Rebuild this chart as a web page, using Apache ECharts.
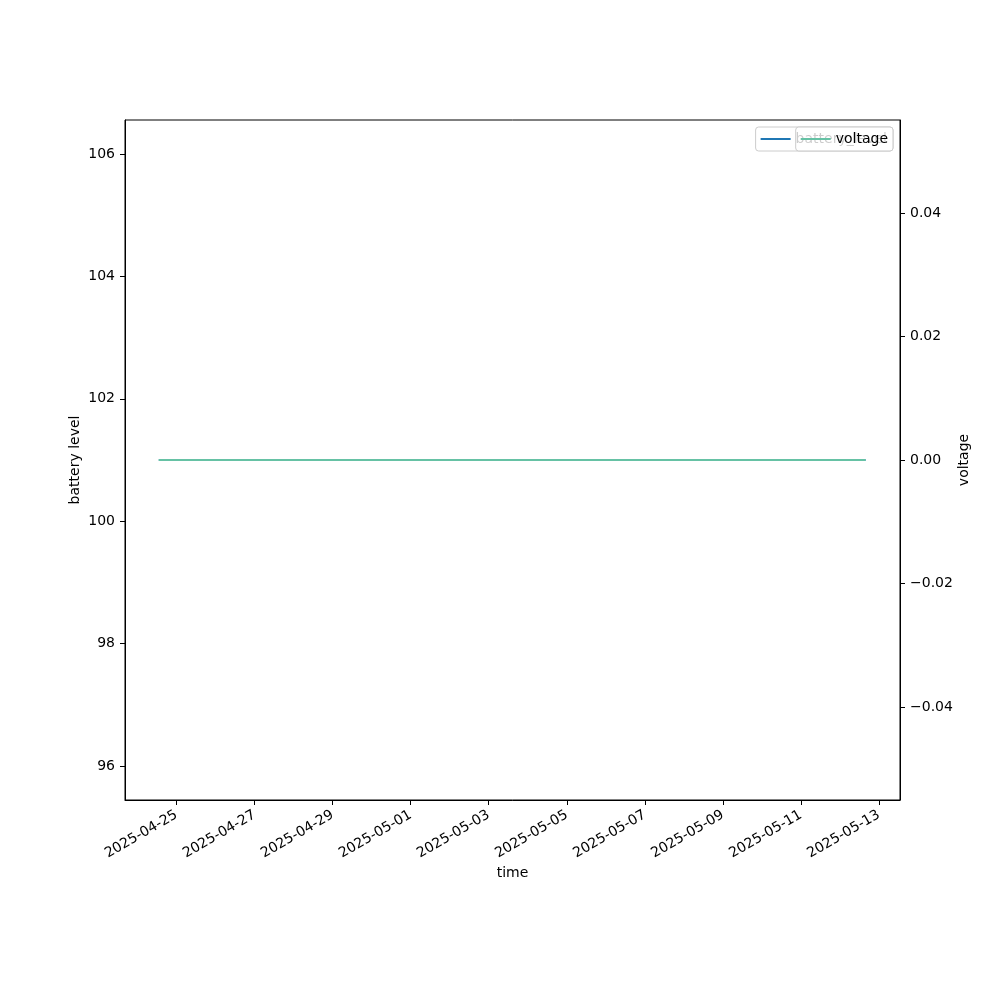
<!DOCTYPE html>
<html>
<head>
<meta charset="utf-8">
<script src="https://cdn.jsdelivr.net/npm/echarts@6/dist/echarts.min.js"></script>
<style>html,body{margin:0;padding:0;background:#fff}#c{width:1000px;height:1000px}</style>
</head>
<body>
<div id="c"></div>
<script>
// ---- data ----
const times = ['2025-04-24T13:06:00', '2025-05-12T15:45:00'];
const batteryLevel = [101, 101];
const voltage = [0, 0];
const xTickDates = ['2025-04-25','2025-04-27','2025-04-29','2025-05-01','2025-05-03','2025-05-05','2025-05-07','2025-05-09','2025-05-11','2025-05-13'];
const leftTicks = [96, 98, 100, 102, 104, 106];
const rightTicks = [-0.04, -0.02, 0, 0.02, 0.04];
const xMin = '2025-04-23T16:19:00';
const xMax = '2025-05-13T12:56:00';

function ts(s){ const p = s.split(/[-T:]/).map(Number); return new Date(p[0], p[1]-1, p[2], p[3]||0, p[4]||0).getTime(); }
function pad(n){ return (n<10?'0':'')+n; }
function fmtDate(v){ const d = new Date(v); return d.getFullYear()+'-'+pad(d.getMonth()+1)+'-'+pad(d.getDate()); }

const FONT = 'DejaVu Sans';
const chart = echarts.init(document.getElementById('c'), null, {renderer:'canvas'});
const xTicks = xTickDates.map(ts);

const legendCommon = {right:107, top:127, orient:'horizontal', padding:[5,5,5,5],
  itemWidth:30, itemHeight:2, itemGap:10, icon:'rect', backgroundColor:'rgba(255,255,255,0.8)',
  borderColor:'#cccccc', borderWidth:1, borderRadius:3,
  textStyle:{fontFamily:FONT, fontSize:14, color:'#000', padding:[0,0,0,0], height:14, lineHeight:14}};

chart.setOption({
  animation: false,
  backgroundColor: '#fff',
  textStyle: {fontFamily: FONT},
  grid: {left:125, right:100, top:120, bottom:200, show:true, borderColor:'#000', borderWidth:1, backgroundColor:'transparent'},
  legend: [
    Object.assign({}, legendCommon, {data:['battery_level'], z:4, right:107, padding:[5,6,5,5]}),
    Object.assign({}, legendCommon, {data:['voltage'], z:5})
  ],
  xAxis: {
    type:'value', min: ts(xMin), max: ts(xMax), scale:true,
    name:'time', nameLocation:'middle', nameGap:66, nameMoveOverlap:false,
    nameTextStyle:{fontFamily:FONT, fontSize:14, color:'#000'},
    axisLine:{show:true, onZero:false, lineStyle:{color:'#000', width:1}},
    axisTick:{show:true, length:5, inside:false, lineStyle:{color:'#000', width:1}, customValues:xTicks},
    axisLabel:{rotate:30, fontFamily:FONT, fontSize:14, color:'#000', margin:14, customValues:xTicks, formatter: fmtDate, hideOverlap:false},
    splitLine:{show:false}
  },
  yAxis: [
    {type:'value', position:'left', min:95.445, max:106.555,
     name:'battery level', nameLocation:'middle', nameRotate:90, nameGap:43, nameMoveOverlap:false,
     nameTextStyle:{fontFamily:FONT, fontSize:14, color:'#000'},
     axisLine:{show:true, onZero:false, lineStyle:{color:'#000', width:1}},
     axisTick:{show:true, length:5, lineStyle:{color:'#000', width:1}, customValues:leftTicks},
     axisLabel:{fontFamily:FONT, fontSize:14, color:'#000', margin:10, customValues:leftTicks, formatter:v=>String(Math.round(v))},
     splitLine:{show:false}},
    {type:'value', position:'right', min:-0.05506, max:0.05506,
     name:'voltage', nameLocation:'middle', nameRotate:90, nameGap:57, nameMoveOverlap:false,
     nameTextStyle:{fontFamily:FONT, fontSize:14, color:'#000'},
     axisLine:{show:true, onZero:false, lineStyle:{color:'#000', width:1}},
     axisTick:{show:true, length:5, lineStyle:{color:'#000', width:1}, customValues:rightTicks},
     axisLabel:{fontFamily:FONT, fontSize:14, color:'#000', margin:10, customValues:rightTicks,
       formatter:v=>{ const s = Math.abs(v).toFixed(2); return (v < -1e-12 ? '\u2212' : '') + s; }},
     splitLine:{show:false}}
  ],
  series: [
    {name:'battery_level', type:'line', yAxisIndex:0, showSymbol:false, symbol:'none',
     data: times.map((t,i)=>[ts(t), batteryLevel[i]]),
     lineStyle:{color:'#1f77b4', width:2}, itemStyle:{color:'#1f77b4'}, z:2},
    {name:'voltage', type:'line', yAxisIndex:1, showSymbol:false, symbol:'none',
     data: times.map((t,i)=>[ts(t), voltage[i]]),
     lineStyle:{color:'#66c2a5', width:2}, itemStyle:{color:'#66c2a5'}, z:3}
  ]
});
</script>
</body>
</html>
